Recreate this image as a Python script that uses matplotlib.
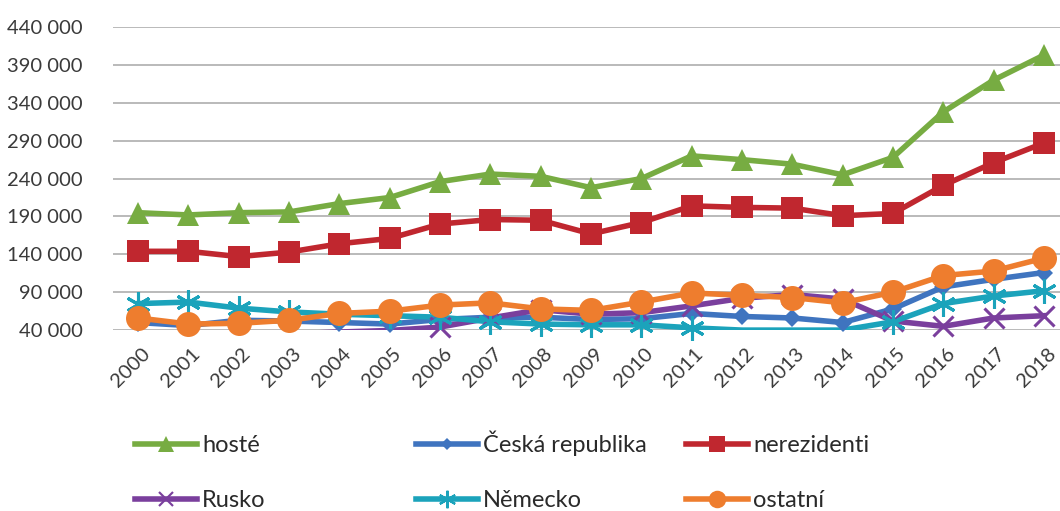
import numpy as np
import matplotlib.pyplot as plt
from matplotlib.lines import Line2D
from matplotlib.transforms import ScaledTranslation

plt.rcParams['font.family'] = ['Lato', 'DejaVu Sans']

# data
years = [str(y) for y in range(2000, 2019)]
hoste = [195000, 192000, 195000, 196000, 207000, 215000, 236000, 246000, 243000, 228000,
         240000, 270000, 265000, 259000, 245000, 268000, 328000, 370000, 403000]
ceska = [50000, 46000, 53000, 52000, 50000, 48000, 54000, 57000, 57000, 54000,
         55000, 62000, 58000, 56000, 50000, 68000, 97000, 107000, 116000]
nerezidenti = [144000, 144000, 137000, 143000, 154000, 161000, 180000, 186000, 185000, 167000,
               182000, 204000, 202000, 201000, 191000, 194000, 231000, 261000, 287000]
rusko = [30000, 31000, 33000, 35000, 37500, 39500, 44000, 56000, 67000, 61000,
         63000, 72000, 82000, 87000, 81000, 52000, 45000, 56000, 59000]
nemecko = [75000, 77000, 69000, 64000, 61000, 59000, 57000, 51000, 48000, 47000,
           47000, 43000, 40000, 40000, 40000, 51000, 75000, 85000, 92000]
ostatni = [56000, 48000, 49000, 53000, 62000, 65000, 73000, 76000, 68000, 66000,
           77000, 89000, 86000, 83000, 76000, 90000, 112000, 118000, 135000]

series = [
    ('hosté', hoste, '#77ac42', '^', 16, 0),
    ('Česká republika', ceska, '#3f74bf', 'D', 9, 0),
    ('nerezidenti', nerezidenti, '#c0272f', 's', 16, 0),
    ('Rusko', rusko, '#7a3f9d', 'x', 15, 2.2),
    ('Německo', nemecko, '#1ba3bb', (6, 2, 0), 18, 2.2),
    ('ostatní', ostatni, '#ee7d2e', 'o', 18, 0),
]

ymin, ymax = 40000, 440000

fig = plt.figure(figsize=(10.6, 5.11), dpi=100)
ax = fig.add_axes([0.1066, 0.354, 0.8934, 0.593])

x = np.arange(len(years))
handles = []
for name, vals, col, mk, ms, mew in series:
    vals = np.array(vals, dtype=float)
    ax.plot(x, vals, color=col, lw=4, solid_joinstyle='round', zorder=3)
    shown = np.where(vals > ymin, vals, np.nan)
    ax.plot(x, shown, ls='none', marker=mk, ms=ms, color=col, mec=col,
            mew=mew, clip_on=False, zorder=4)
    handles.append(Line2D([], [], color=col, lw=4, marker=mk, ms=ms * 0.7,
                          mec=col, mew=mew * 0.7))

ax.set_xlim(-0.5, 18.32)
ax.set_ylim(ymin, ymax)
ticks = list(range(ymin, ymax + 1, 50000))
ax.set_yticks(ticks)
ax.set_yticklabels([f'{t:,}'.replace(',', ' ') for t in ticks])
ax.set_xticks(x)
ax.set_xticklabels(years, rotation=45, ha='right', va='center', rotation_mode='anchor')
ax.grid(axis='y', color='#b4b4b4', lw=1.3, zorder=0)
ax.set_axisbelow(True)
for s in ax.spines.values():
    s.set_visible(False)
ax.tick_params(axis='both', length=0, colors='#3a3a3a')
ax.tick_params(axis='y', labelsize=14.5, pad=22)
ax.tick_params(axis='x', labelsize=14.5, pad=15)
for lab in ax.get_xticklabels():
    lab.set_transform(lab.get_transform() + ScaledTranslation(0.09, 0, fig.dpi_scale_trans))

# legend: one entry per slot, three columns, two rows (bottom-anchored so baselines line up)
cols = [0.127, 0.392, 0.647]
rows = [0.108, 0.0]
for i, (name, vals, col, mk, ms, mew) in enumerate(series):
    leg = fig.legend([handles[i]], [name], loc='lower left',
                     bbox_to_anchor=(cols[i % 3], rows[i // 3]),
                     frameon=False, fontsize=17, borderpad=0, borderaxespad=0,
                     handlelength=2.65, handletextpad=0.2)
    for t in leg.get_texts():
        t.set_color('#2a2a2a')

fig.savefig('out.png', dpi=100)
